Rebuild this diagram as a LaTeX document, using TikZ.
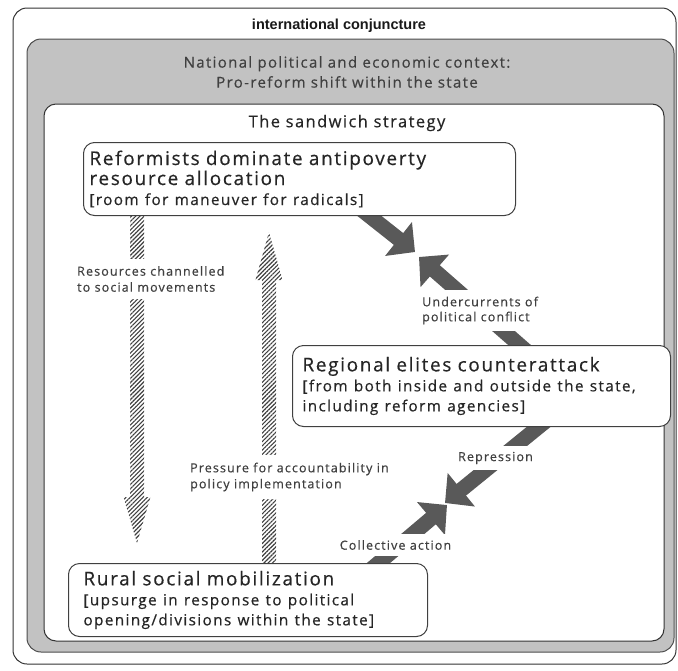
\documentclass[tikz,border=0pt]{standalone}
\usepackage{fontspec}
\setmainfont[LetterSpace=9, FakeBold=0.5]{Open Sans}
\newfontfamily\intlfont{Liberation Sans}
\usetikzlibrary{arrows.meta,patterns.meta,calc}

\pgfdeclarelayer{frame}
\pgfdeclarelayer{flow}
\pgfsetlayers{frame,flow,main}

\tikzset{
  stagebox/.style={draw=black!75, line width=1pt, rounded corners=11pt, fill=white,
    anchor=north west, align=left, inner ysep=0pt, text=black!85,
    font=\fontsize{18.9}{20}\selectfont},
  flowlabel/.style={fill=white, align=left, inner xsep=2pt, text=black!75,
    font=\fontsize{12.5}{16}\selectfont},
  push/.style={line width=15pt, draw=black!65, -{Triangle[length=21pt,width=42pt]}},
  hatch/.style={pattern={Lines[angle=45,distance=3pt,line width=1.1pt]}, pattern color=black!75},
}

\begin{document}
\begin{tikzpicture}[x=1pt, y=-1pt]
  \useasboundingbox (0,0) rectangle (678,670);

  % the three settings
  \begin{pgfonlayer}{frame}
    \draw[black!80, line width=1pt, rounded corners=14pt] (13,8) rectangle (676,664); % international
    \draw[black!70, fill=black!24, line width=1pt, rounded corners=14pt] (27,39) rectangle (674,652); % national
    \draw[black!80, fill=white, line width=1pt, rounded corners=12pt] (44,104) rectangle (664,641); % sandwich
  \end{pgfonlayer}

  \node[font={\intlfont\bfseries\fontsize{14.5}{16}\selectfont}, text=black!90] (intl) at (339,26) {international conjuncture};
  \node[font=\fontsize{15}{20}\selectfont, text=black!75, align=center] (natl) at (347,72) {National political and economic context:\\Pro-reform shift within the state};
  \node[font=\fontsize{16.4}{20}\selectfont, text=black!85] (sandwich) at (347,123) {The sandwich strategy};

  % actors
  \node[stagebox, minimum height=73pt, text width=420pt, inner xsep=6pt] (reform) at (83,142)
    {Reformists dominate antipoverty\\resource allocation\\\fontsize{15.3}{20}\selectfont[room for maneuver for radicals]};
  \node[stagebox, minimum height=81pt, text width=358pt, inner xsep=10pt] (regional) at (292,345)
    {Regional elites counterattack\\\fontsize{15.3}{20}\selectfont[from both inside and outside the state,\\including reform agencies]};
  \node[stagebox, minimum height=73pt, text width=329pt, inner xsep=15pt] (rural) at (68,563)
    {Rural social mobilization\\\fontsize{15.3}{20}\selectfont[upsurge in response to political\\opening/divisions within the state]};

  % labels
  \node[flowlabel, anchor=west, inner ysep=7pt] (resources) at (75,279) {Resources channelled\\to social movements};
  \node[flowlabel, anchor=west, inner ysep=7.5pt] (pressure) at (188,477) {Pressure for accountability in\\policy implementation};
  \node[flowlabel, anchor=west, inner ysep=7pt, font=\fontsize{12.5}{15}\selectfont] (under) at (420,310.5) {Undercurrents of\\political conflict};
  \node[flowlabel, inner ysep=6pt] (repress) at (495.5,458) {Repression};
  \node[flowlabel, inner ysep=6pt] (collect) at (395.5,545) {Collective action};

  % flows
  \begin{pgfonlayer}{flow}
    \coordinate (rdt) at (137,543); % resources tip
    \coordinate (rdb) at (137,497);
    \coordinate (pdt) at (269,232); % pressure tip
    \coordinate (pdb) at (269,280);
    \path (reform.south -| rdb) coordinate (rds) (rural.north -| pdb) coordinate (pds);
    \fill[hatch] ([xshift=-7pt]rds) -- ([xshift=-7pt]rdb) -- ([xshift=-13.5pt]rdb) -- (rdt)
      -- ([xshift=13.5pt]rdb) -- ([xshift=7pt]rdb) -- ([xshift=7pt]rds) -- cycle;
    \fill[hatch] ([xshift=-7pt]pds) -- ([xshift=-7pt]pdb) -- ([xshift=-13.5pt]pdb) -- (pdt)
      -- ([xshift=13.5pt]pdb) -- ([xshift=7pt]pdb) -- ([xshift=7pt]pds) -- cycle;

    \coordinate (uc1) at (415,252);
    \coordinate (uc2) at (419,257);
    \coordinate (rp) at (445,503);
    \coordinate (ca) at (447,505);
    \draw[push, shorten <=-10pt] ([xshift=70pt]reform.south) -- (uc1);
    \draw[push, shorten <=-10pt] ([xshift=38pt]regional.north) -- (uc2);
    \draw[push, shorten <=-10pt] ([xshift=57pt]regional.south) -- (rp);
    \draw[push, shorten <=-10pt] ([xshift=130.5pt]rural.north) -- (ca);
  \end{pgfonlayer}
\end{tikzpicture}
\end{document}
